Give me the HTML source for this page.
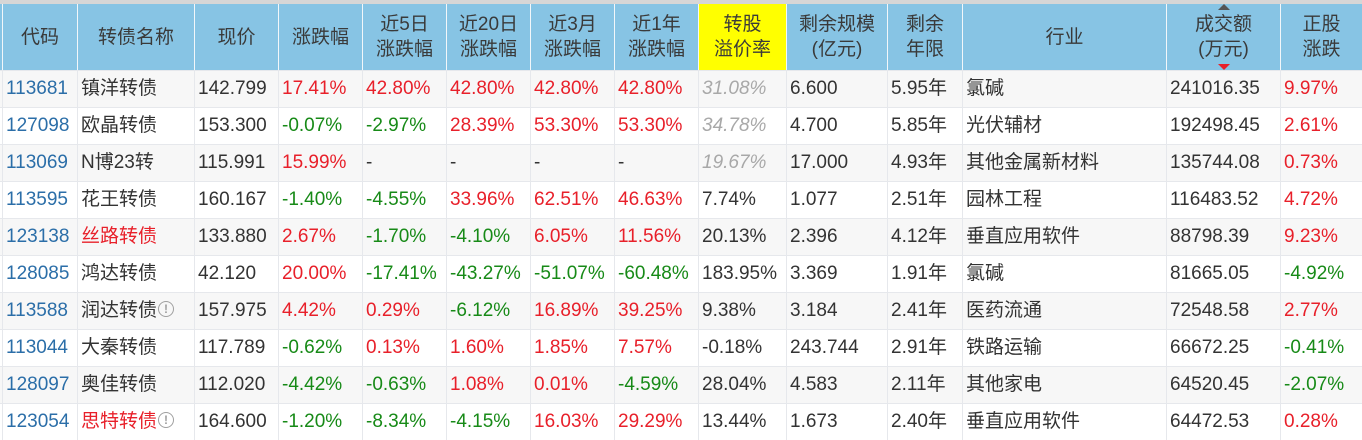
<!DOCTYPE html>
<html><head><meta charset="utf-8">
<style>
html,body{margin:0;padding:0;background:#fff;}
body{width:1362px;height:440px;position:relative;overflow:hidden;font-family:"Liberation Sans","Noto Sans CJK SC",sans-serif;font-size:19px;color:#333;}
.top{position:absolute;left:0;top:0;width:1362px;height:4px;background:#d6d6d6;}
.cols{grid-template-columns:2px 74px 116px 83px 83px 83px 83px 83px 83px 87px 100px 74px 203px 113px 81px;column-gap:1px;}
.hd{position:absolute;left:0;top:4px;width:1362px;height:66px;display:grid;background:#f2f7fa;grid-template-rows:66px;}
.hd>div{background:#87c4e4;display:flex;align-items:center;justify-content:center;text-align:center;line-height:25px;color:#3a3a3a;position:relative;}
.hd>div.y{background:#ffff00;}
.bd{position:absolute;left:0;top:70px;width:1362px;height:370px;display:grid;background:#e6e8ec;padding-top:1px;box-sizing:border-box;grid-template-rows:repeat(10,36px);row-gap:1px;}
.r{display:contents;}
.r>div{background:#fff;line-height:36px;padding-left:3px;white-space:nowrap;overflow:hidden;color:#333;}
.r:nth-child(odd)>div{background:#f7f7f7;}
.r>div:first-child{padding:0;}
.c{color:#2b6ea8 !important;}
.rd{color:#e8202a !important;}
.g{color:#178a17 !important;}
.gi{color:#a8a8a8 !important;font-style:italic;}
.i{display:inline-block;width:14px;height:14px;border:1.5px solid #a0a0a0;border-radius:50%;color:#a0a0a0;font-size:12px;line-height:14px;text-align:center;vertical-align:middle;margin-left:1px;margin-top:-3px;font-weight:bold;font-family:"Liberation Sans",sans-serif;}
.up{position:absolute;left:50%;top:0px;margin-left:-6px;width:0;height:0;border-left:6px solid transparent;border-right:6px solid transparent;border-bottom:6px solid #555;}
.dn{position:absolute;left:50%;bottom:0px;margin-left:-6px;width:0;height:0;border-left:6px solid transparent;border-right:6px solid transparent;border-top:6px solid #e8202a;}
</style></head><body>
<div class="top"></div>
<div class="hd cols">
<div></div>
<div>代码</div>
<div>转债名称</div>
<div>现价</div>
<div>涨跌幅</div>
<div>近5日<br>涨跌幅</div>
<div>近20日<br>涨跌幅</div>
<div>近3月<br>涨跌幅</div>
<div>近1年<br>涨跌幅</div>
<div class="y">转股<br>溢价率</div>
<div>剩余规模<br>(亿元)</div>
<div>剩余<br>年限</div>
<div>行业</div>
<div><span class="up"></span>成交额<br>(万元)<span class="dn"></span></div>
<div>正股<br>涨跌</div>
</div>
<div class="bd cols">
<div class="r"><div></div><div class="c">113681</div><div>镇洋转债</div><div>142.799</div><div class="rd">17.41%</div><div class="rd">42.80%</div><div class="rd">42.80%</div><div class="rd">42.80%</div><div class="rd">42.80%</div><div class="gi">31.08%</div><div>6.600</div><div>5.95年</div><div>氯碱</div><div>241016.35</div><div class="rd">9.97%</div></div>
<div class="r"><div></div><div class="c">127098</div><div>欧晶转债</div><div>153.300</div><div class="g">-0.07%</div><div class="g">-2.97%</div><div class="rd">28.39%</div><div class="rd">53.30%</div><div class="rd">53.30%</div><div class="gi">34.78%</div><div>4.700</div><div>5.85年</div><div>光伏辅材</div><div>192498.45</div><div class="rd">2.61%</div></div>
<div class="r"><div></div><div class="c">113069</div><div>N博23转</div><div>115.991</div><div class="rd">15.99%</div><div>-</div><div>-</div><div>-</div><div>-</div><div class="gi">19.67%</div><div>17.000</div><div>4.93年</div><div>其他金属新材料</div><div>135744.08</div><div class="rd">0.73%</div></div>
<div class="r"><div></div><div class="c">113595</div><div>花王转债</div><div>160.167</div><div class="g">-1.40%</div><div class="g">-4.55%</div><div class="rd">33.96%</div><div class="rd">62.51%</div><div class="rd">46.63%</div><div>7.74%</div><div>1.077</div><div>2.51年</div><div>园林工程</div><div>116483.52</div><div class="rd">4.72%</div></div>
<div class="r"><div></div><div class="c">123138</div><div class="rd">丝路转债</div><div>133.880</div><div class="rd">2.67%</div><div class="g">-1.70%</div><div class="g">-4.10%</div><div class="rd">6.05%</div><div class="rd">11.56%</div><div>20.13%</div><div>2.396</div><div>4.12年</div><div>垂直应用软件</div><div>88798.39</div><div class="rd">9.23%</div></div>
<div class="r"><div></div><div class="c">128085</div><div>鸿达转债</div><div>42.120</div><div class="rd">20.00%</div><div class="g">-17.41%</div><div class="g">-43.27%</div><div class="g">-51.07%</div><div class="g">-60.48%</div><div>183.95%</div><div>3.369</div><div>1.91年</div><div>氯碱</div><div>81665.05</div><div class="g">-4.92%</div></div>
<div class="r"><div></div><div class="c">113588</div><div>润达转债<span class="i">!</span></div><div>157.975</div><div class="rd">4.42%</div><div class="rd">0.29%</div><div class="g">-6.12%</div><div class="rd">16.89%</div><div class="rd">39.25%</div><div>9.38%</div><div>3.184</div><div>2.41年</div><div>医药流通</div><div>72548.58</div><div class="rd">2.77%</div></div>
<div class="r"><div></div><div class="c">113044</div><div>大秦转债</div><div>117.789</div><div class="g">-0.62%</div><div class="rd">0.13%</div><div class="rd">1.60%</div><div class="rd">1.85%</div><div class="rd">7.57%</div><div>-0.18%</div><div>243.744</div><div>2.91年</div><div>铁路运输</div><div>66672.25</div><div class="g">-0.41%</div></div>
<div class="r"><div></div><div class="c">128097</div><div>奥佳转债</div><div>112.020</div><div class="g">-4.42%</div><div class="g">-0.63%</div><div class="rd">1.08%</div><div class="rd">0.01%</div><div class="g">-4.59%</div><div>28.04%</div><div>4.583</div><div>2.11年</div><div>其他家电</div><div>64520.45</div><div class="g">-2.07%</div></div>
<div class="r"><div></div><div class="c">123054</div><div><span class="rd">思特转债</span><span class="i">!</span></div><div>164.600</div><div class="g">-1.20%</div><div class="g">-8.34%</div><div class="g">-4.15%</div><div class="rd">16.03%</div><div class="rd">29.29%</div><div>13.44%</div><div>1.673</div><div>2.40年</div><div>垂直应用软件</div><div>64472.53</div><div class="rd">0.28%</div></div>
</div>
</body></html>
